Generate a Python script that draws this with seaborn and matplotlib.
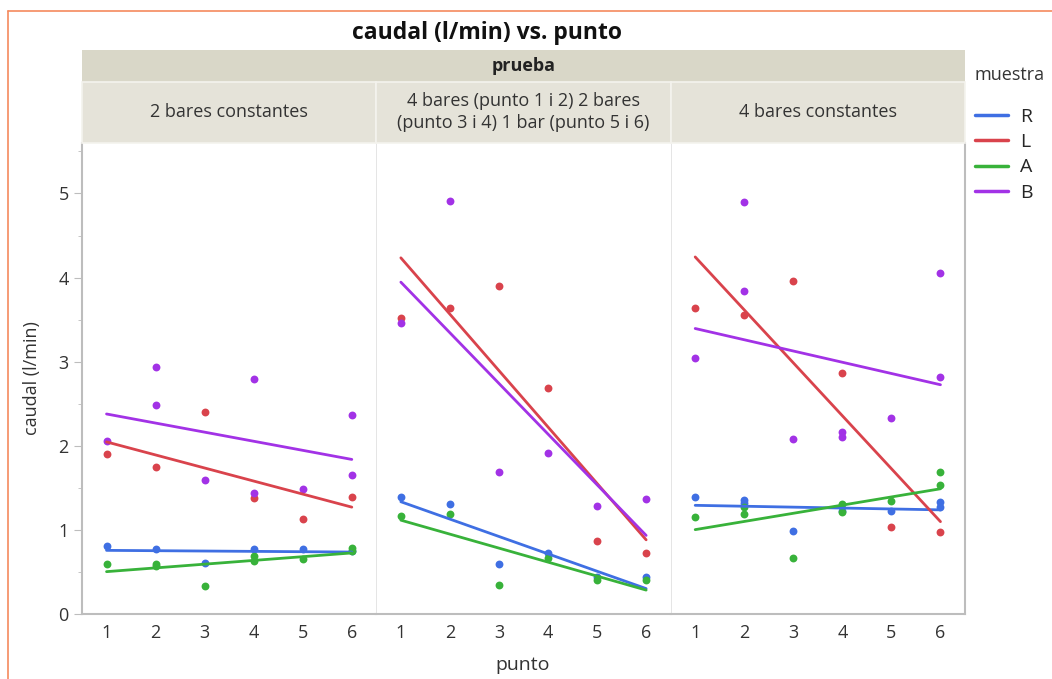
import pandas as pd
import matplotlib.pyplot as plt
import seaborn as sns
from matplotlib.lines import Line2D
from matplotlib.patches import Rectangle

sns.set_style("white")
plt.rcParams['font.family'] = ['Open Sans', 'DejaVu Sans']

# 資料：每個測試（prueba）一組
pruebas = ["2 bares constantes",
           "4 bares (punto 1 i 2) 2 bares\n(punto 3 i 4) 1 bar (punto 5 i 6)",
           "4 bares constantes"]
muestras = ["R", "L", "A", "B"]
colores = ["#3f6fe3", "#d9434c", "#38b23a", "#a232e6"]

# 2 bares constantes
punto_1 = [1, 2, 3, 4, 5, 6,
           1, 2, 3, 4, 5, 6,
           1, 2, 2, 3, 4, 4, 5, 6, 6,
           1, 2, 2, 3, 4, 4, 5, 6, 6]
muestra_1 = ["R"] * 6 + ["L"] * 6 + ["A"] * 9 + ["B"] * 9
caudal_1 = [0.81, 0.77, 0.61, 0.77, 0.77, 0.75,
            1.90, 1.75, 2.40, 1.38, 1.13, 1.39,
            0.59, 0.60, 0.57, 0.33, 0.69, 0.63, 0.65, 0.79, 0.75,
            2.06, 2.94, 2.48, 1.59, 2.79, 1.44, 1.49, 2.37, 1.65]

# 4 bares -> 2 bares -> 1 bar
punto_2 = [1, 2, 3, 4, 5, 6] * 4
muestra_2 = ["R"] * 6 + ["L"] * 6 + ["A"] * 6 + ["B"] * 6
caudal_2 = [1.39, 1.31, 0.60, 0.73, 0.44, 0.44,
            3.52, 3.64, 3.90, 2.69, 0.87, 0.73,
            1.17, 1.19, 0.35, 0.67, 0.41, 0.41,
            3.46, 4.91, 1.69, 1.92, 1.29, 1.37]

# 4 bares constantes
punto_3 = [1, 2, 2, 3, 4, 5, 6, 6,
           1, 2, 3, 4, 5, 6,
           1, 2, 2, 3, 4, 4, 5, 6, 6,
           1, 2, 2, 3, 4, 4, 5, 6, 6]
muestra_3 = ["R"] * 8 + ["L"] * 6 + ["A"] * 9 + ["B"] * 9
caudal_3 = [1.39, 1.35, 1.32, 0.99, 1.23, 1.23, 1.33, 1.27,
            3.64, 3.56, 3.96, 2.87, 1.03, 0.97,
            1.15, 1.19, 1.27, 0.67, 1.31, 1.21, 1.34, 1.69, 1.53,
            3.04, 4.90, 3.84, 2.08, 2.11, 2.16, 2.33, 4.06, 2.82]

df = pd.concat([
    pd.DataFrame({"prueba": pruebas[0], "punto": punto_1, "muestra": muestra_1, "caudal": caudal_1}),
    pd.DataFrame({"prueba": pruebas[1], "punto": punto_2, "muestra": muestra_2, "caudal": caudal_2}),
    pd.DataFrame({"prueba": pruebas[2], "punto": punto_3, "muestra": muestra_3, "caudal": caudal_3}),
], ignore_index=True)

W, H = 1052, 679
fig, axes = plt.subplots(1, 3, figsize=(W / 100, H / 100), dpi=100, sharey=True)
fig.subplots_adjust(left=82 / W, right=965 / W, bottom=1 - 614 / H, top=1 - 143 / H, wspace=0)

gris = "#bdbdbd"
for i, (ax, prueba) in enumerate(zip(axes, pruebas)):
    sub = df[df["prueba"] == prueba]
    for m, c in zip(muestras, colores):
        d = sub[sub["muestra"] == m]
        sns.regplot(data=d, x="punto", y="caudal", ax=ax, ci=None, color=c,
                    scatter_kws={"s": 32, "linewidths": 0, "alpha": 1},
                    line_kws={"lw": 2})
    ax.set_xlim(0.5, 6.5)
    ax.set_ylim(0, 5.6)
    ax.set_xticks(range(1, 7))
    ax.set_xlabel("")
    ax.set_ylabel("")
    ax.tick_params(axis="x", length=0, labelsize=13, colors="#333333", pad=7)
    for s in ["top", "right", "left", "bottom"]:
        ax.spines[s].set_visible(False)
    ax.spines["bottom"].set_visible(True)
    ax.spines["bottom"].set_color(gris)
    ax.spines["bottom"].set_linewidth(1.5)
    if i > 0:
        ax.axvline(0.5, color="#e0e0e0", lw=1.2)
    if i == 2:
        ax.spines["right"].set_visible(True)
        ax.spines["right"].set_color(gris)
        ax.spines["right"].set_linewidth(1.5)

ax0 = axes[0]
ax0.spines["left"].set_visible(True)
ax0.spines["left"].set_color(gris)
ax0.spines["left"].set_linewidth(1.5)
ax0.set_yticks(range(0, 6))
ax0.set_yticks([0.5, 1.5, 2.5, 3.5, 4.5, 5.5], minor=True)
ax0.tick_params(axis="y", which="major", left=True, length=6, color=gris, labelsize=13, labelcolor="#333333")
ax0.tick_params(axis="y", which="minor", left=True, length=3, color=gris)
for ax in axes[1:]:
    ax.tick_params(axis="y", left=False, which="both")

fig.text(32 / W, 1 - 378 / H, "caudal (l/min)", rotation=90, ha="center", va="center", fontsize=13, color="#333333")
fig.text(523 / W, 1 - 665 / H, "punto", ha="center", va="center", fontsize=14, color="#333333")

# 標題與分面標籤
fig.text(487 / W, 1 - 33 / H, "caudal (l/min) vs. punto", ha="center", va="center",
         fontsize=16.5, fontweight="bold", color="#111111")
fig.add_artist(Rectangle((82 / W, 1 - 82 / H), (965 - 82) / W, 32 / H, transform=fig.transFigure,
                         facecolor="#d9d7c8", edgecolor="none"))
fig.text(524 / W, 1 - 66 / H, "prueba", ha="center", va="center", fontsize=13, fontweight="bold", color="#222222")
for ax, prueba in zip(axes, pruebas):
    pos = ax.get_position()
    fig.add_artist(Rectangle((pos.x0, 1 - 143 / H), pos.width, 61 / H, transform=fig.transFigure,
                             facecolor="#e5e3d9", edgecolor="#f4f3ee", lw=1.2))
    fig.text(pos.x0 + pos.width / 2, 1 - 112 / H, prueba, ha="center", va="center",
             fontsize=13, color="#333333", linespacing=1.3)

# 圖例
fig.text(975 / W, 1 - 75 / H, "muestra", ha="left", va="center", fontsize=13, color="#333333")
handles = [Line2D([], [], color=c, lw=2.5) for c in colores]
leg = fig.legend(handles, muestras, loc="upper left",
                 bbox_to_anchor=(975 / W, 1 - 108 / H), frameon=False, fontsize=14,
                 handlelength=1.7, handletextpad=0.6, labelspacing=0.37,
                 borderpad=0, borderaxespad=0)

# 外框（橘色）
fig.add_artist(Line2D([8 / W, 1], [1 - 11 / H, 1 - 11 / H], transform=fig.transFigure, color="#f58a5e", lw=1.2))
fig.add_artist(Line2D([8 / W, 8 / W], [0, 1 - 11 / H], transform=fig.transFigure, color="#f58a5e", lw=1.2))

fig.savefig("out.png", dpi=100)
